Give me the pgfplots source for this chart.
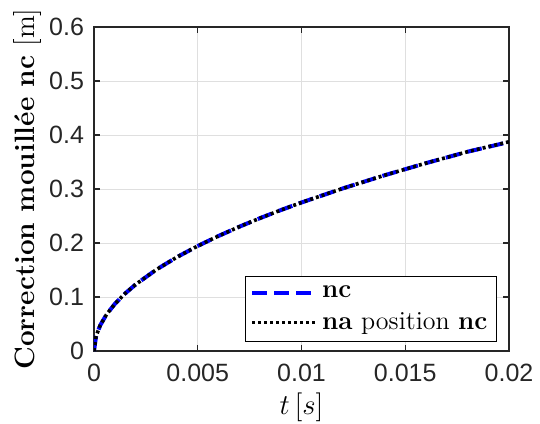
\documentclass[border=0pt]{standalone}
\usepackage{fontspec}
\newfontfamily\arial{Liberation Sans}
\usepackage{pgfplots}
\pgfplotsset{compat=1.18}
\definecolor{axgray}{gray}{0.15}
\begin{document}
\begin{tikzpicture}
\useasboundingbox (-47pt,-36pt) rectangle (223pt,175.5pt);
\begin{axis}[
  scale only axis,
  width=207.5pt, height=162pt,
  xmin=0, xmax=0.02, ymin=0, ymax=0.6,
  xtick={0,0.005,0.01,0.015,0.02},
  xticklabels={0,0.005,0.01,0.015,0.02},
  ytick={0,0.1,0.2,0.3,0.4,0.5,0.6},
  yticklabels={0,0.1,0.2,0.3,0.4,0.5,0.6},
  scaled x ticks=false,
  tick align=inside,
  major tick length=3pt,
  grid=major,
  grid style={gray!25, line width=0.5pt},
  axis line style={axgray, line width=0.6pt},
  tick style={axgray, line width=0.6pt},
  ticklabel style={font=\arial\fontsize{12.5}{14}\selectfont, text=axgray},
  xticklabel style={yshift=-3pt},
  yticklabel style={xshift=-1.5pt},
  /pgf/number format/assume math mode=true,
  xlabel={$t\,[s]$},
  ylabel={\textbf{Correction mouillée nc} [m]},
  label style={font=\fontsize{14}{16}\selectfont},
  xlabel style={at={(axis description cs:0.5,0)}, anchor=center, yshift=-28pt},
  ylabel style={at={(axis description cs:0,0.5)}, anchor=center, yshift=33pt},
  legend style={at={(rel axis cs:0.971,0.028)}, anchor=south east, draw=black, line width=0.5pt,
    font=\fontsize{13}{15}\selectfont, inner sep=2.5pt, row sep=2pt},
  legend cell align=left,
  legend image code/.code={\draw[#1] (0cm,0cm) -- (32pt,0cm);},
]
\addplot[blue, line width=2pt, dash pattern=on 7.5pt off 3.5pt] coordinates {
(0,0) (0.0001,0.0275) (0.0003,0.0476) (0.0006,0.0674) (0.001,0.0870) (0.0015,0.1065)
(0.002,0.1230) (0.003,0.1506) (0.004,0.1739) (0.005,0.1945) (0.006,0.2130) (0.007,0.2301)
(0.008,0.2460) (0.009,0.2609) (0.010,0.2750) (0.012,0.3012) (0.014,0.3254) (0.016,0.3479)
(0.018,0.3690) (0.020,0.3870)};
\addlegendentry{\textbf{nc}}
\addplot[black, line width=1.8pt, dash pattern=on 1.5pt off 1.5pt] coordinates {
(0,0) (0.0001,0.0275) (0.0003,0.0476) (0.0006,0.0674) (0.001,0.0870) (0.0015,0.1065)
(0.002,0.1230) (0.003,0.1506) (0.004,0.1739) (0.005,0.1945) (0.006,0.2130) (0.007,0.2301)
(0.008,0.2460) (0.009,0.2609) (0.010,0.2750) (0.012,0.3012) (0.014,0.3254) (0.016,0.3479)
(0.018,0.3690) (0.020,0.3875)};
\addlegendentry{\textbf{na} position \textbf{nc}}
\end{axis}
\end{tikzpicture}
\end{document}
